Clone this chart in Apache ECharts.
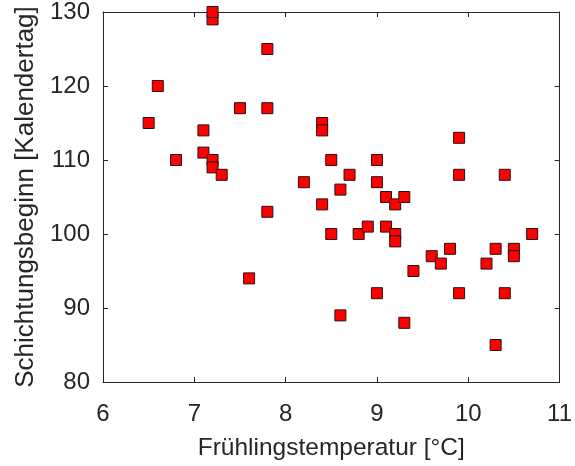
<!DOCTYPE html>
<html>
<head>
<meta charset="utf-8">
<script src="https://cdn.jsdelivr.net/npm/echarts@6/dist/echarts.min.js"></script>
<style>
html,body{margin:0;padding:0;background:#fff;}
#chart{width:575px;height:466px;}
</style>
</head>
<body>
<div id="chart"></div>
<script>
// Frühlingstemperatur [°C]
var temperature = [6.5, 6.6, 6.8, 7.1, 7.1, 7.2, 7.2, 7.2, 7.2, 7.3,
  7.5, 7.6, 7.8, 7.8, 7.8, 8.2, 8.4, 8.4, 8.4, 8.5,
  8.5, 8.6, 8.6, 8.7, 8.8, 8.9, 9.0, 9.0, 9.0, 9.1,
  9.1, 9.2, 9.2, 9.2, 9.3, 9.3, 9.4, 9.6, 9.7, 9.8,
  9.9, 9.9, 9.9, 10.2, 10.3, 10.3, 10.4, 10.4, 10.5, 10.5, 10.7];
// Schichtungsbeginn [Kalendertag]
var onsetDay = [115, 120, 110, 114, 111, 129, 130, 110, 109, 108,
  117, 94, 125, 117, 103, 107, 115, 114, 104, 110,
  100, 106, 89, 108, 100, 101, 110, 107, 92, 105,
  101, 104, 100, 99, 105, 88, 95, 97, 96, 98,
  113, 108, 92, 96, 98, 85, 108, 92, 98, 97, 100];
var xTicks = [6, 7, 8, 9, 10, 11];
var yTicks = [80, 90, 100, 110, 120, 130];

var points = temperature.map(function (t, i) { return [t, onsetDay[i]]; });

var font = '"Liberation Sans", Arial, Helvetica, sans-serif';
var axisColor = '#262626';
var tickLen = 5;

function mainAxis(ticks, name, gap, nameSize) {
  return {
    type: 'value',
    min: ticks[0], max: ticks[ticks.length - 1], interval: ticks[1] - ticks[0],
    name: name, nameLocation: 'middle', nameGap: gap,
    nameTextStyle: { fontFamily: font, fontSize: nameSize, color: axisColor },
    axisLine: { show: true, lineStyle: { color: axisColor, width: 1 } },
    axisTick: { show: true, inside: true, length: tickLen, lineStyle: { color: axisColor, width: 1 } },
    axisLabel: { show: true, fontFamily: font, fontSize: 24, color: axisColor, margin: 12 },
    splitLine: { show: false }
  };
}
function mirrorAxis(ticks, pos) {
  return {
    type: 'value', position: pos,
    min: ticks[0], max: ticks[ticks.length - 1], interval: ticks[1] - ticks[0],
    axisLine: { show: true, onZero: false, lineStyle: { color: axisColor, width: 1 } },
    axisTick: { show: true, inside: true, length: tickLen, lineStyle: { color: axisColor, width: 1 } },
    axisLabel: { show: false },
    splitLine: { show: false }
  };
}

var xMain = mainAxis(xTicks, 'Frühlingstemperatur [°C]', 54, 24.5);
var yMain = mainAxis(yTicks, 'Schichtungsbeginn [Kalendertag]', 58, 26);
yMain.axisLabel.margin = 13;
xMain.axisLabel.margin = 20;

var chart = echarts.init(document.getElementById('chart'), null, { renderer: 'canvas' });
chart.setOption({
  animation: false,
  backgroundColor: '#ffffff',
  grid: { left: 103, right: 11, top: 12, bottom: 77, containLabel: false },
  xAxis: [xMain, mirrorAxis(xTicks, 'top')],
  yAxis: [yMain, mirrorAxis(yTicks, 'right')],
  series: [{
    type: 'scatter',
    xAxisIndex: 0, yAxisIndex: 0,
    data: points,
    symbol: 'rect',
    symbolSize: 11,
    itemStyle: { color: '#ff0000', borderColor: '#2a1010', borderWidth: 1, opacity: 1 },
    emphasis: { disabled: true },
    clip: false
  }]
});
</script>
</body>
</html>
